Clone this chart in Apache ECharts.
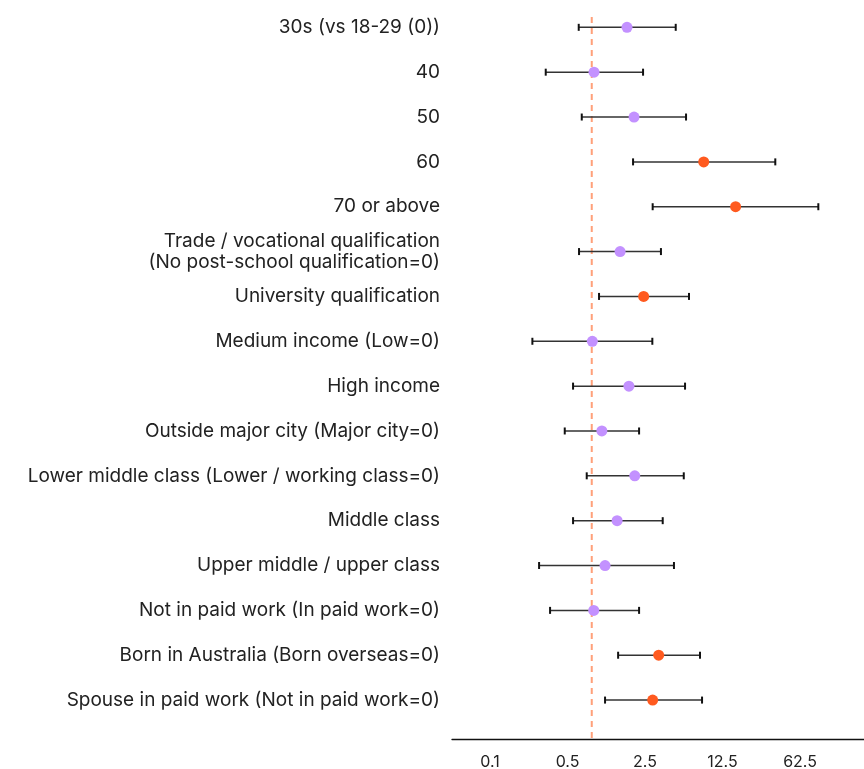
<!DOCTYPE html>
<html>
<head>
<meta charset="utf-8">
<script src="https://cdn.jsdelivr.net/npm/echarts@6/dist/echarts.min.js"></script>
<style>
  html, body { margin: 0; padding: 0; background: #fff; }
  #chart { width: 864px; height: 769px; }
</style>
</head>
<body>
<div id="chart"></div>
<script>
const categories = [
  '30s (vs 18-29 (0))',
  '40',
  '50',
  '60',
  '70 or above',
  'Trade / vocational qualification\n(No post-school qualification=0)',
  'University qualification',
  'Medium income (Low=0)',
  'High income',
  'Outside major city (Major city=0)',
  'Lower middle class (Lower / working class=0)',
  'Middle class',
  'Upper middle / upper class',
  'Not in paid work (In paid work=0)',
  'Born in Australia (Born overseas=0)',
  'Spouse in paid work (Not in paid work=0)'
]
const estimates = [1.72, 0.867, 1.99, 8.46, 16.4, 1.49, 2.43, 0.837, 1.79, 1.02, 2.02, 1.40, 1.09, 0.862, 3.32, 2.93]
const lower = [0.631, 0.318, 0.672, 1.95, 2.93, 0.635, 0.962, 0.241, 0.561, 0.472, 0.745, 0.561, 0.277, 0.348, 1.43, 1.09]
const upper = [4.73, 2.40, 5.86, 37.4, 91.4, 3.48, 6.23, 2.91, 5.74, 2.21, 5.59, 3.61, 4.56, 2.21, 7.83, 8.17]
const significant = [false, false, false, true, true, false, true, false, false, false, false, false, false, false, true, true]
const tickLabels = [0.1, 0.5, 2.5, 12.5, 62.5]
const referenceValue = 0.827
const axisRange = [0.0454, 236]

// log base 5 scale, drawn on a value axis
const log5 = v => Math.log(v) / Math.log(5)

const chart = echarts.init(document.getElementById('chart'))

const pointData = estimates.map((v, i) => ({
  value: [log5(v), i],
  itemStyle: { color: significant[i] ? '#FF5A1F' : '#C391FF', opacity: 1 }
}))
const barData = estimates.map((v, i) => [log5(lower[i]), log5(upper[i]), i])

const option = {
  backgroundColor: '#fff',
  animation: false,
  grid: {
    left: 452,
    right: 0,
    top: 4.9,
    bottom: 46.5,
    outerBoundsMode: 'none'
  },
  xAxis: {
    type: 'value',
    min: log5(axisRange[0]),
    max: log5(axisRange[1]),
    offset: 16.5,
    axisLine: { show: true, lineStyle: { color: '#111', width: 1.3 } },
    axisTick: { show: false },
    splitLine: { show: false },
    axisLabel: {
      customValues: tickLabels.map(log5),
      formatter: v => String(+Math.pow(5, v).toPrecision(3)),
      color: '#222',
      fontSize: 16,
      fontFamily: 'Inter',
      margin: 15
    }
  },
  yAxis: {
    type: 'category',
    data: categories,
    inverse: true,
    axisLine: { show: false },
    axisTick: { show: false },
    splitLine: { show: false },
    axisLabel: {
      color: '#222',
      fontSize: 19,
      fontFamily: 'Inter',
      lineHeight: 21,
      margin: 12
    }
  },
  series: [
    {
      type: 'custom',
      name: 'reference',
      data: [[log5(referenceValue)]],
      z: 1,
      renderItem: function (params, api) {
        const cs = params.coordSys
        const x = api.coord([api.value(0), 0])[0]
        return {
          type: 'line',
          shape: { x1: x, y1: cs.y + 12, x2: x, y2: cs.y + cs.height + 16.5 },
          style: { stroke: '#FFA07A', lineWidth: 2, lineDash: [6, 5] }
        }
      }
    },
    {
      type: 'custom',
      name: 'interval',
      data: barData,
      z: 2,
      renderItem: function (params, api) {
        const lo = api.coord([api.value(0), api.value(2)])
        const hi = api.coord([api.value(1), api.value(2)])
        const h = 3.5
        return {
          type: 'group',
          children: [
            { type: 'line', shape: { x1: lo[0], y1: lo[1], x2: hi[0], y2: hi[1] }, style: { stroke: '#333', lineWidth: 1.5 } },
            { type: 'line', shape: { x1: lo[0], y1: lo[1] - h, x2: lo[0], y2: lo[1] + h }, style: { stroke: '#111', lineWidth: 2 } },
            { type: 'line', shape: { x1: hi[0], y1: hi[1] - h, x2: hi[0], y2: hi[1] + h }, style: { stroke: '#111', lineWidth: 2 } }
          ]
        }
      }
    },
    {
      type: 'scatter',
      name: 'estimate',
      data: pointData,
      symbolSize: 11,
      z: 3
    }
  ]
}

chart.setOption(option)
window.addEventListener('resize', () => chart.resize())
</script>
</body>
</html>
